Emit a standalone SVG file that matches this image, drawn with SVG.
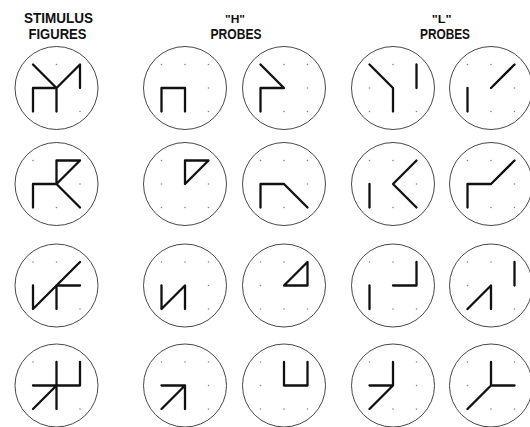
<svg xmlns="http://www.w3.org/2000/svg" xmlns:xlink="http://www.w3.org/1999/xlink" width="530" height="427" viewBox="0 0 530 427">
<style>
.hd{font-family:"Liberation Sans","DejaVu Sans",Arial,sans-serif;font-weight:bold;fill:#111;text-anchor:middle}
.ring{fill:none;stroke:#333;stroke-width:0.9}
.dot{fill:#8a8a8a}
.fig{fill:none;stroke:#111;stroke-width:2.3;stroke-linecap:round;stroke-linejoin:round}
</style>
<defs>
<g id="cell">
<circle class="ring" cx="0" cy="0" r="41.5"/>
<circle class="dot" cx="-23.5" cy="-23.5" r="0.8"/><circle class="dot" cx="0" cy="-23.5" r="0.8"/><circle class="dot" cx="23.5" cy="-23.5" r="0.8"/>
<circle class="dot" cx="-23.5" cy="0" r="0.8"/><circle class="dot" cx="0" cy="0" r="0.8"/><circle class="dot" cx="23.5" cy="0" r="0.8"/>
<circle class="dot" cx="-23.5" cy="23.5" r="0.8"/><circle class="dot" cx="0" cy="23.5" r="0.8"/><circle class="dot" cx="23.5" cy="23.5" r="0.8"/>
</g>
</defs>
<rect width="530" height="427" fill="#fff"/>
<g id="headers">
<text class="hd" x="58.5" y="23.3" font-size="15" textLength="69" lengthAdjust="spacingAndGlyphs">STIMULUS</text>
<text class="hd" x="57.5" y="39.3" font-size="15" textLength="58" lengthAdjust="spacingAndGlyphs">FIGURES</text>
<text class="hd" x="235" y="23.2" font-size="11" textLength="20" lengthAdjust="spacingAndGlyphs">"H"</text>
<text class="hd" x="236" y="39.3" font-size="14" textLength="51" lengthAdjust="spacingAndGlyphs">PROBES</text>
<text class="hd" x="441.7" y="23.2" font-size="11" textLength="20" lengthAdjust="spacingAndGlyphs">"L"</text>
<text class="hd" x="445" y="39.3" font-size="14" textLength="50" lengthAdjust="spacingAndGlyphs">PROBES</text>
</g>
<g id="connectors"/>
<!-- Row 1 -->
<g id="r1-stimulus" transform="translate(56.5,88)"><use xlink:href="#cell"/><path class="fig" d="M-23.5,-23.5 L0,0 L23.5,-23.5 L23.5,0 M-23.5,23.5 L-23.5,0 L0,0 L0,23.5"/></g>
<g id="r1-h1" transform="translate(185,88)"><use xlink:href="#cell"/><path class="fig" d="M-23.5,23.5 L-23.5,0 L0,0 L0,23.5"/></g>
<g id="r1-h2" transform="translate(284,88)"><use xlink:href="#cell"/><path class="fig" d="M-23.5,-23.5 L0,0 L-23.5,0 L-23.5,23.5"/></g>
<g id="r1-l1" transform="translate(393,88)"><use xlink:href="#cell"/><path class="fig" d="M-23.5,-23.5 L0,0 L0,23.5 M23.5,-23.5 L23.5,0"/></g>
<g id="r1-l2" transform="translate(491,88)"><use xlink:href="#cell"/><path class="fig" d="M-23.5,0 L-23.5,23.5 M0,0 L23.5,-23.5"/></g>
<!-- Row 2 -->
<g id="r2-stimulus" transform="translate(56.5,184)"><use xlink:href="#cell"/><path class="fig" d="M-23.5,23.5 L-23.5,0 L0,0 L23.5,23.5 M0,0 L0,-23.5 L23.5,-23.5 L0,0"/></g>
<g id="r2-h1" transform="translate(185,184)"><use xlink:href="#cell"/><path class="fig" d="M0,-23.5 L23.5,-23.5 L0,0 Z"/></g>
<g id="r2-h2" transform="translate(284,184)"><use xlink:href="#cell"/><path class="fig" d="M-23.5,23.5 L-23.5,0 L0,0 L23.5,23.5"/></g>
<g id="r2-l1" transform="translate(393,184)"><use xlink:href="#cell"/><path class="fig" d="M-23.5,0 L-23.5,23.5 M23.5,-23.5 L0,0 L23.5,23.5"/></g>
<g id="r2-l2" transform="translate(491,184)"><use xlink:href="#cell"/><path class="fig" d="M-23.5,23.5 L-23.5,0 L0,0 L23.5,-23.5"/></g>
<!-- Row 3 -->
<g id="r3-stimulus" transform="translate(56.5,285.5)"><use xlink:href="#cell"/><path class="fig" d="M-23.5,0 L-23.5,23.5 L23.5,-23.5 M0,23.5 L0,0 L23.5,0"/></g>
<g id="r3-h1" transform="translate(185,285.5)"><use xlink:href="#cell"/><path class="fig" d="M-23.5,0 L-23.5,23.5 L0,0 L0,23.5"/></g>
<g id="r3-h2" transform="translate(284,285.5)"><use xlink:href="#cell"/><path class="fig" d="M0,0 L23.5,-23.5 L23.5,0 Z"/></g>
<g id="r3-l1" transform="translate(393,285.5)"><use xlink:href="#cell"/><path class="fig" d="M-23.5,0 L-23.5,23.5 M0,0 L23.5,0 L23.5,-23.5"/></g>
<g id="r3-l2" transform="translate(491,285.5)"><use xlink:href="#cell"/><path class="fig" d="M23.5,-23.5 L23.5,0 M-23.5,23.5 L0,0 L0,23.5"/></g>
<!-- Row 4 -->
<g id="r4-stimulus" transform="translate(56.5,385.5)"><use xlink:href="#cell"/><path class="fig" d="M0,-23.5 L0,23.5 M23.5,-23.5 L23.5,0 L-23.5,0 M-23.5,23.5 L0,0"/></g>
<g id="r4-h1" transform="translate(185,385.5)"><use xlink:href="#cell"/><path class="fig" d="M-23.5,0 L0,0 L0,23.5 M-23.5,23.5 L0,0"/></g>
<g id="r4-h2" transform="translate(284,385.5)"><use xlink:href="#cell"/><path class="fig" d="M0,-23.5 L0,0 L23.5,0 L23.5,-23.5"/></g>
<g id="r4-l1" transform="translate(393,385.5)"><use xlink:href="#cell"/><path class="fig" d="M-23.5,0 L0,0 L0,-23.5 M-23.5,23.5 L0,0"/></g>
<g id="r4-l2" transform="translate(491,385.5)"><use xlink:href="#cell"/><path class="fig" d="M0,-23.5 L0,0 L23.5,0 M-23.5,23.5 L0,0"/></g>
</svg>
